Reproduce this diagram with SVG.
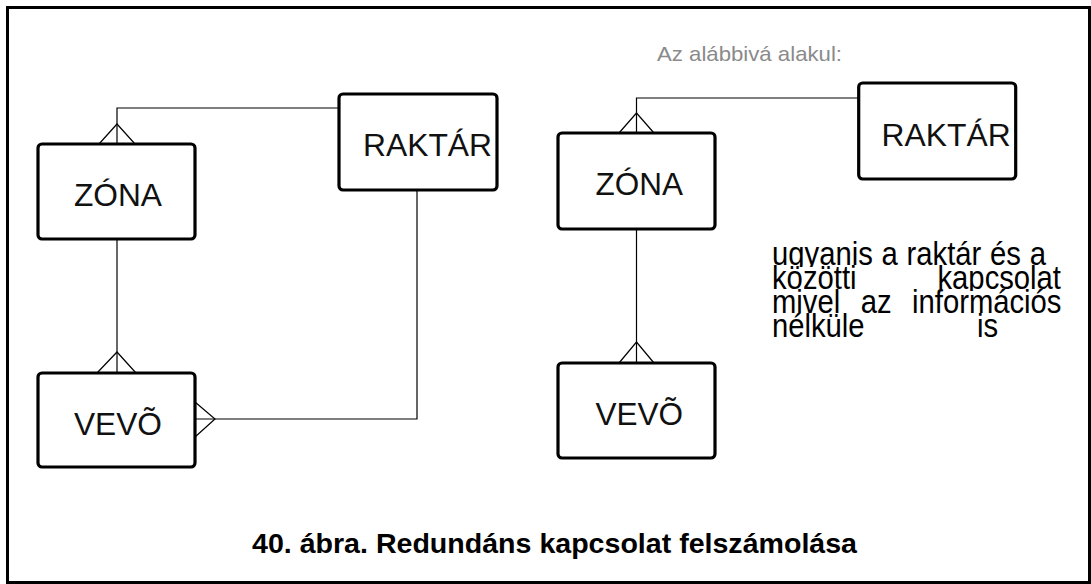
<svg xmlns="http://www.w3.org/2000/svg" width="1091" height="584" viewBox="0 0 1091 584">
<style>
.frame{fill:#fff;stroke:#000;stroke-width:3}
.box{fill:#fff;stroke:#000;stroke-width:3.2}
.lbl{font-family:"Liberation Sans",Arial,sans-serif;font-size:32px;fill:#111}
.conn{fill:none;stroke:#000;stroke-width:1.2}
.par{font-family:"Liberation Sans",Arial,sans-serif;font-size:34px;fill:#000}
.note{font-family:"Liberation Sans",Arial,sans-serif;font-size:21px;fill:#8a8a8a}
.cap{font-family:"Liberation Sans",Arial,sans-serif;font-size:28.5px;font-weight:bold;fill:#000}
</style>
<defs>
<clipPath id="cl1"><rect x="760" y="230" width="320" height="37"/></clipPath>
<clipPath id="cl2"><rect x="760" y="254" width="320" height="37"/></clipPath>
<clipPath id="cl3"><rect x="760" y="278" width="320" height="37"/></clipPath>
<clipPath id="cl4"><rect x="760" y="300" width="320" height="39"/></clipPath>
</defs>
<rect class="frame" x="7.5" y="7.5" width="1082" height="575"/>
<g id="connectors">
<path class="conn" d="M117,144 V108 H339"/>
<path class="conn" d="M99,144 L117,124 L135,144"/>
<path class="conn" d="M117,239 V373"/>
<path class="conn" d="M97,373 L117,352 L136,373"/>
<path class="conn" d="M417,190 V419 H195"/>
<path class="conn" d="M195,402 L215,419 L195,437"/>
<path class="conn" d="M636.5,133 V98 H858.7"/>
<path class="conn" d="M619,133 L636.5,113 L654,133"/>
<path class="conn" d="M636.5,229 V363"/>
<path class="conn" d="M619,363 L636.5,342 L654,363"/>
</g>
<g id="zona1">
<rect class="box" x="38" y="144" width="157" height="95" rx="4"/>
<text class="lbl" x="74" y="205.7" textLength="88" lengthAdjust="spacingAndGlyphs">ZÓNA</text>
</g>
<g id="raktar1">
<rect class="box" x="339" y="94" width="158" height="96" rx="4"/>
<text class="lbl" x="363" y="156" textLength="129" lengthAdjust="spacingAndGlyphs">RAKTÁR</text>
</g>
<g id="vevo1">
<rect class="box" x="38" y="373" width="157" height="94" rx="4"/>
<text class="lbl" x="74" y="435" textLength="88" lengthAdjust="spacingAndGlyphs">VEVÕ</text>
</g>
<g id="zona2">
<rect class="box" x="558" y="133" width="157" height="96" rx="4"/>
<text class="lbl" x="595.5" y="195" textLength="87.5" lengthAdjust="spacingAndGlyphs">ZÓNA</text>
</g>
<g id="raktar2">
<rect class="box" x="858.7" y="83" width="157" height="96" rx="4"/>
<text class="lbl" x="881.6" y="145.7" textLength="129" lengthAdjust="spacingAndGlyphs">RAKTÁR</text>
</g>
<g id="vevo2">
<rect class="box" x="558" y="363" width="157" height="95" rx="4"/>
<text class="lbl" x="595.5" y="425" textLength="87.5" lengthAdjust="spacingAndGlyphs">VEVÕ</text>
</g>
<text class="note" x="657" y="60.5" textLength="185" lengthAdjust="spacingAndGlyphs">Az alábbivá alakul:</text>
<g id="paragraph">
<g clip-path="url(#cl1)">
<text class="par" x="772" y="265" textLength="100.8" lengthAdjust="spacingAndGlyphs">ugyanis</text>
<text class="par" x="881.6" y="265" textLength="16.3" lengthAdjust="spacingAndGlyphs">a</text>
<text class="par" x="906.6" y="265" textLength="74.7" lengthAdjust="spacingAndGlyphs">raktár</text>
<text class="par" x="990" y="265" textLength="30.9" lengthAdjust="spacingAndGlyphs">és</text>
<text class="par" x="1029.7" y="265" textLength="16.3" lengthAdjust="spacingAndGlyphs">a</text>
</g>
<g clip-path="url(#cl2)">
<text class="par" x="772" y="289" textLength="84.5" lengthAdjust="spacingAndGlyphs">közötti</text>
<text class="par" x="937.5" y="289" textLength="123.5" lengthAdjust="spacingAndGlyphs">kapcsolat</text>
</g>
<g clip-path="url(#cl3)">
<text class="par" x="772" y="313" textLength="68.2" lengthAdjust="spacingAndGlyphs">mivel</text>
<text class="par" x="860.7" y="313" textLength="30.9" lengthAdjust="spacingAndGlyphs">az</text>
<text class="par" x="912" y="313" textLength="149.5" lengthAdjust="spacingAndGlyphs">információs</text>
</g>
<g clip-path="url(#cl4)">
<text class="par" x="772" y="337" textLength="92.6" lengthAdjust="spacingAndGlyphs">nélküle</text>
<text class="par" x="977" y="337" textLength="21.1" lengthAdjust="spacingAndGlyphs">is</text>
</g>
</g>
<text class="cap" x="252" y="553" textLength="605" lengthAdjust="spacingAndGlyphs">40. ábra. Redundáns kapcsolat felszámolása</text>
</svg>
